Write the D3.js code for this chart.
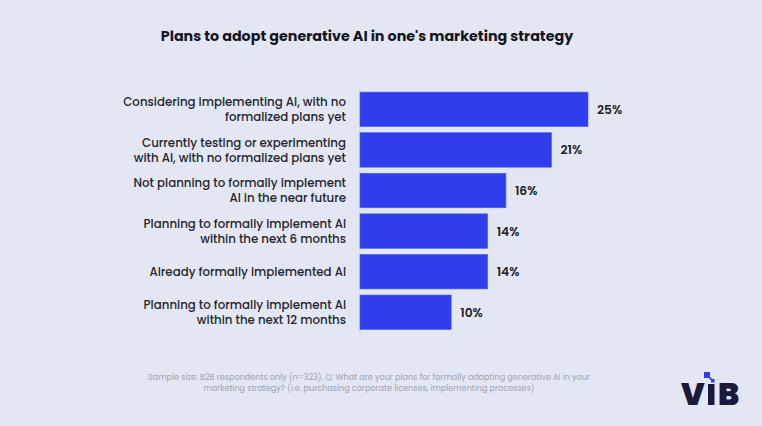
<!DOCTYPE html>
<html><head><meta charset="utf-8">
<script src="https://cdn.jsdelivr.net/npm/d3@7"></script>
<style>
html,body{margin:0;padding:0;background:#e2e7f3;}
svg{display:block;}
</style></head>
<body>
<svg id="c" width="762" height="426"></svg>
<script>
const categories = [
  ["Considering implementing AI, with no", "formalized plans yet"],
  ["Currently testing or experimenting", "with AI, with no formalized plans yet"],
  ["Not planning to formally implement", "AI in the near future"],
  ["Planning to formally implement AI", "within the next 6 months"],
  ["Already formally implemented AI"],
  ["Planning to formally implement AI", "within the next 12 months"]
];
const values = [25, 21, 16, 14, 14, 10];
const valueLabels = ["25%", "21%", "16%", "14%", "14%", "10%"];
const title = "Plans to adopt generative AI in one's marketing strategy";
const footnote = [
  "Sample size: B2B respondents only (n=323). Q: What are your plans for formally adopting generative AI in your",
  "marketing strategy? (i.e. purchasing corporate licenses, implementing processes)"
];

const svg = d3.select("#c");
const font = "Poppins, Inter, 'Noto Sans', sans-serif";
svg.append("rect").attr("width",762).attr("height",426).attr("fill","#e2e7f3");

svg.append("text").attr("x",367).attr("y",41).attr("text-anchor","middle")
  .attr("font-family",font).attr("font-weight",700).attr("font-size",14.3)
  .attr("fill","#15151f").text(title);

const x = d3.scaleLinear().domain([0,25]).range([360,588]);
const y = d3.scaleBand().domain(d3.range(values.length)).range([86,335.6]).padding(0.15);

svg.append("line").attr("x1",360).attr("x2",360).attr("y1",84).attr("y2",336)
  .attr("stroke","#cfd5e3").attr("stroke-width",1);

svg.selectAll("rect.bar").data(values).join("rect").attr("class","bar")
  .attr("x",x(0)).attr("y",(d,i)=>y(i)).attr("width",d=>x(d)-x(0)).attr("height",y.bandwidth())
  .attr("fill","#2f3ded").attr("stroke","#4a63f0").attr("stroke-width",0.6);

svg.selectAll("text.val").data(values).join("text").attr("class","val")
  .attr("x",d=>x(d)+9).attr("y",(d,i)=>y(i)+y.bandwidth()/2+4.5)
  .attr("font-family",font).attr("font-weight",600).attr("font-size",12.3)
  .attr("fill","#1e1e28").text((d,i)=>valueLabels[i]);

const lab = svg.selectAll("text.lab").data(categories).join("text").attr("class","lab")
  .attr("text-anchor","end").attr("font-family",font).attr("font-weight",500).attr("font-size",11.8)
  .attr("fill","#25252f");
lab.each(function(lines,i){
  const cy = y(i)+y.bandwidth()/2;
  const lh = 15;
  const start = cy - (lines.length-1)*lh/2 + 4.2;
  d3.select(this).selectAll("tspan").data(lines).join("tspan")
    .attr("x",346).attr("y",(d,j)=>start+j*lh).text(d=>d);
});

svg.selectAll("text.foot").data(footnote).join("text").attr("class","foot")
  .attr("x",369).attr("y",(d,i)=>380+i*10.5).attr("text-anchor","middle")
  .attr("font-family",font).attr("font-size",8.1).attr("fill","#9da3b2").text(d=>d);

// logo
const g = svg.append("g").attr("fill","#1b1a3d");
g.append("text").attr("x",681).attr("y",405).attr("font-family",font).attr("font-weight",900)
  .attr("font-size",31).attr("fill","#1b1a3d").text("V");
g.append("rect").attr("x",708).attr("y",384).attr("width",6.5).attr("height",21);
g.append("text").attr("x",718).attr("y",405).attr("font-family",font).attr("font-weight",900)
  .attr("font-size",31).attr("fill","#1b1a3d").text("B");
svg.append("line").attr("x1",708).attr("y1",376).attr("x2",713).attr("y2",381)
  .attr("stroke","#4a63f0").attr("stroke-width",2);
svg.append("rect").attr("x",704).attr("y",372).attr("width",6).attr("height",6).attr("fill","#2f3ded");
svg.append("rect").attr("x",711).attr("y",379).attr("width",3.5).attr("height",3.5).attr("fill","#2f3ded");
</script>
</body></html>
